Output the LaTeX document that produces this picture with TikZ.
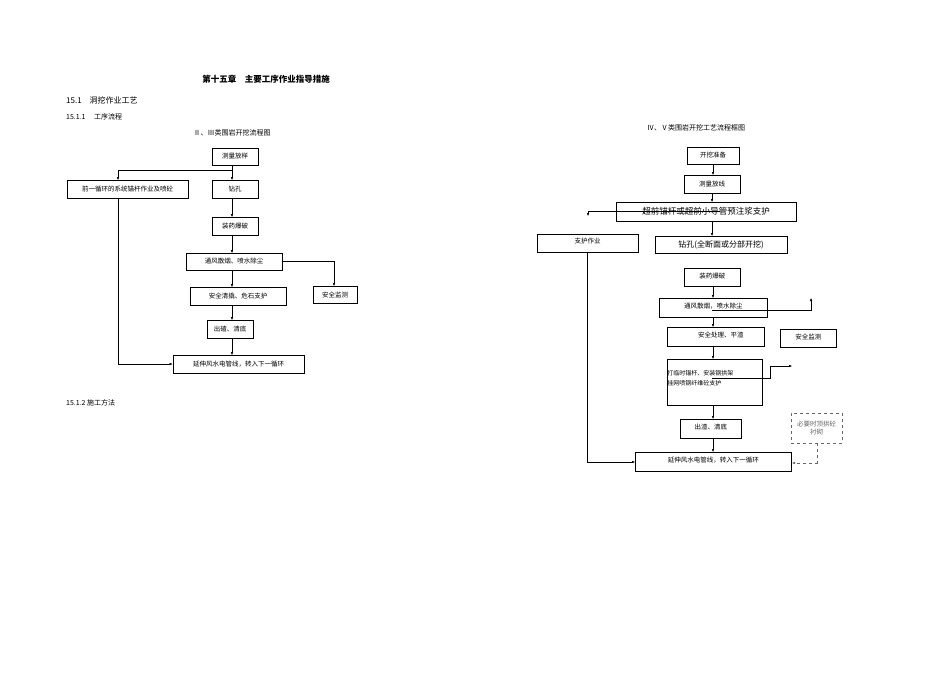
\documentclass[tikz,border=0pt]{standalone}
\usepackage{fontspec}
\setmainfont{Liberation Sans}
\newfontfamily\cjk{Noto Sans CJK SC}
\usetikzlibrary{arrows.meta}
\begin{document}
\begin{tikzpicture}[x=1pt,y=-1pt,
  bx/.style={draw,thick,inner sep=0pt,font=\cjk\fontsize{6.5}{8}\selectfont},
  dbx/.style={draw,dashed,gray!80!black,inner sep=0pt,font=\cjk\fontsize{6.5}{8}\selectfont},
  ar/.style={-{Latex[length=3pt,width=2.5pt]},thin},
  ln/.style={thin},
  hd/.style={font=\cjk\fontsize{7}{8}\selectfont,anchor=west,inner sep=0pt}]
\useasboundingbox (0,0) rectangle (950,672);
\fill[white] (0,0) rectangle (950,672);
% headings
\node[font=\cjk\bfseries\fontsize{8.5}{10}\selectfont,inner sep=0pt] (t0) at (266,79) {第十五章\quad 主要工序作业指导措施};
\node[hd,font=\cjk\fontsize{8}{9}\selectfont] (t1) at (66,100) {15.1\quad 洞挖作业工艺};
\node[hd] (t2) at (66,117) {15.1.1\quad\ 工序流程};
\node[hd] (t3) at (66,403) {15.1.2 施工方法};
\node[font=\cjk\fontsize{7}{8}\selectfont,inner sep=0pt] (t4) at (232,133) {Ⅱ、Ⅲ类围岩开挖流程图};
\node[font=\cjk\fontsize{7}{8}\selectfont,inner sep=0pt] (t5) at (696,128) {Ⅳ、Ⅴ类围岩开挖工艺流程框图};
% left chart
\node[bx,minimum width=46,minimum height=17] (a1) at (235,156.5) {测量放样};
\node[bx,minimum width=121,minimum height=18] (a0) at (127.5,189) {前一循环的系统锚杆作业及喷砼};
\node[bx,minimum width=46,minimum height=18] (a2) at (235,189) {钻孔};
\node[bx,minimum width=46,minimum height=18] (a3) at (235,226) {装药爆破};
\node[bx,minimum width=96,minimum height=17] (a4) at (234,261.5) {通风散烟、喷水除尘};
\node[bx,minimum width=96,minimum height=18] (a5) at (238,296) {安全清撬、危石支护};
\node[bx,minimum width=44,minimum height=17] (a6) at (335,294.5) {安全监测};
\node[bx,minimum width=46,minimum height=18] (a7) at (230,329) {出碴、清底};
\node[bx,minimum width=131,minimum height=18] (a8) at (238.5,364) {延伸风水电管线，转入下一循环};
\coordinate (c1) at (232,170);
\draw[ar] (232,165) -- (232,180);
\draw[ar] (c1) -| (118,180);
\draw[ar] (232,198) -- (232,217);
\draw[ar] (232,235) -- (232,253);
\draw[ar] (232,270) -- (232,287);
\draw[ar] (a4.east) -| (334,286);
\draw[ar] (232,305) -- (232,320);
\draw[ar] (232,338) -- (232,355);
\draw[ar] (118,198) |- (a8.west);
% right chart
\node[bx,minimum width=52,minimum height=17] (b1) at (713,155.5) {开挖准备};
\node[bx,minimum width=56,minimum height=18] (b2) at (712,184) {测量放线};
\node[bx,minimum width=180,minimum height=19,font=\cjk\fontsize{8.5}{9}\selectfont] (b3) at (706,211.5) {超前锚杆或超前小导管预注浆支护};
\node[bx,minimum width=101,minimum height=18] (b4) at (587.5,243) {\raisebox{4pt}{支护作业}};
\node[bx,minimum width=132,minimum height=17,font=\cjk\fontsize{8}{9}\selectfont] (b5) at (721,244.5) {钻孔(全断面或分部开挖)};
\node[bx,minimum width=56,minimum height=18,anchor=north west] (b6) at (684,268) {\raisebox{4pt}{装药爆破}\hspace{18pt}};
\node[bx,minimum width=108,minimum height=19,anchor=north west] (b7) at (659,298) {\raisebox{4pt}{通风散烟，喷水除尘}\hspace{40pt}};
\node[bx,minimum width=97,minimum height=19,anchor=north west] (b8) at (667,327) {\raisebox{4pt}{\hspace{10pt}安全处理、平渣}\hspace{10pt}};
\node[bx,minimum width=56,minimum height=18,anchor=north west] (b9) at (780,329) {\raisebox{4pt}{安全监测}\hspace{18pt}};
\node[bx,minimum width=95,minimum height=46,anchor=north west,align=left,font=\cjk\fontsize{6}{9.5}\selectfont] (b10) at (667,359) {\raisebox{14pt}{\parbox{95pt}{打临时锚杆、安装钢拱架\\挂网喷钢纤维砼支护}}};
\node[bx,minimum width=61,minimum height=19,anchor=north west] (b11) at (680,419) {\raisebox{4pt}{出渣、清底}\hspace{22pt}};
\node[dbx,minimum width=51,minimum height=30,anchor=north west,align=center] (b12) at (791,413) {必要时顶拱砼\\衬砌};
\node[bx,minimum width=156,minimum height=19,anchor=north west] (b13) at (635,452) {\raisebox{4pt}{延伸风水电管线，转入下一循环}\hspace{30pt}};
\draw[ar] (713,164) -- (713,175);
\draw[ar] (712,193) -- (712,202);
\draw[ar] (720,211) -| (588,216);
\draw[ar] (712,221) -- (712,236);
\draw[ar] (713,286) -- (713,298);
\draw[ar] (712,310) -| (811,298);
\draw[ar] (713,317) -- (713,327);
\draw[ar] (713,346) -- (713,359);
\draw[ar] (712,378) -- (770,378) -- (770,366) -- (792,366);
\draw[ar] (713,405) -- (713,419);
\draw[ar] (713,438) -- (713,452);
\draw[ar] (b4.south) |- (635,462);
\draw[ar,dashed,gray!80!black] (b12.south) |- (792,463);
\end{tikzpicture}
\end{document}
